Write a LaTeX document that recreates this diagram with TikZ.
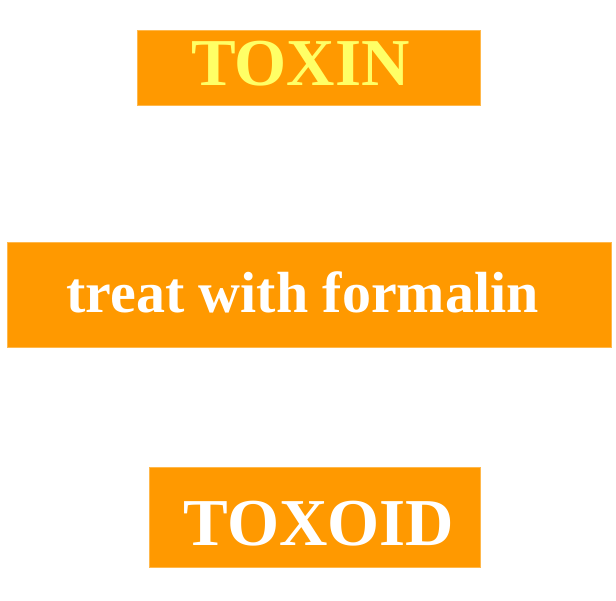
\documentclass[tikz,border=0pt]{standalone}
\usepackage{fontspec}
\setmainfont{Liberation Serif}
\usepackage{tikz}
\definecolor{boxorange}{HTML}{FF9900}
\definecolor{paleyellow}{HTML}{FFFF66}
\tikzset{box/.style={fill=boxorange, draw=boxorange!70, line width=0.6pt, inner sep=0pt},
         word/.style={anchor=base, inner sep=0pt, font=\fontsize{67}{80}\selectfont\bfseries}}
\begin{document}
\begin{tikzpicture} [x=1pt,y=1pt]
            \useasboundingbox (0,0) rectangle (616,600);
            \node[box, minimum width=343pt, minimum height=75pt] (toxinbox) at (308.5,532.5) {};
            \node[box, minimum width=604pt, minimum height=105pt] (treatbox) at (309,305.5) {};
            \node[box, minimum width=331pt, minimum height=100pt] (toxoidbox) at (314.5,83) {};
            \node[word, text=paleyellow] (toxin) at (300.5,514.3) {TOXIN};
            \node[word, text=white, font=\fontsize{58}{70}\selectfont\bfseries] (treat) at (302.5,287) {treat with formalin};
            \node[word, text=white] (toxoid) at (319,54) {TOXOID};
        \end{tikzpicture}
\end{document}
